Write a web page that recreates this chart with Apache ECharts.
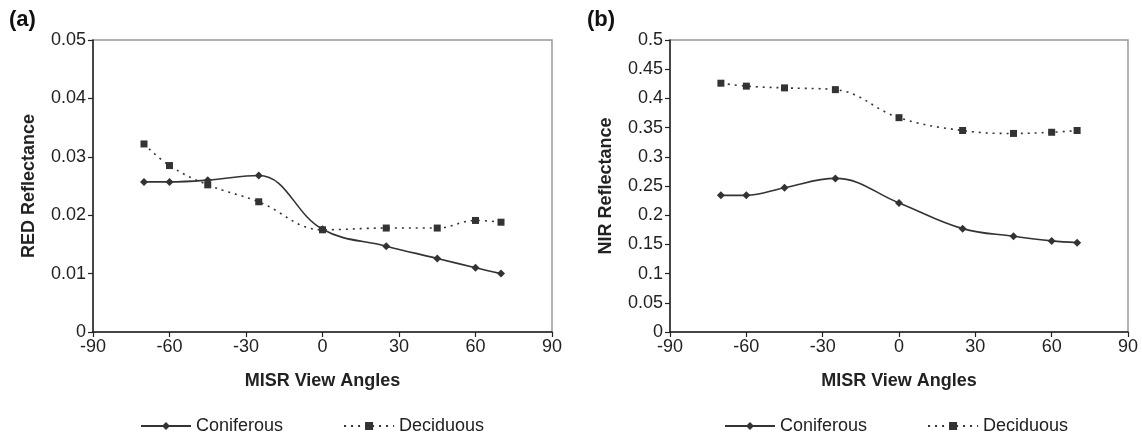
<!DOCTYPE html>
<html>
<head>
<meta charset="utf-8">
<script src="https://cdn.jsdelivr.net/npm/echarts@6/dist/echarts.min.js"></script>
<style>
  html, body { margin: 0; padding: 0; background: #fff; }
  #chart { width: 1142px; height: 440px; }
</style>
</head>
<body>
<div id="chart"></div>
<script>
// view angles (degrees)
const angles = [-70, -60, -45, -25, 0, 25, 45, 60, 70];

// (a) RED reflectance
const redConiferous = [0.0257, 0.0257, 0.0260, 0.0268, 0.0176, 0.0147, 0.0126, 0.0110, 0.0100];
const redDeciduous = [0.0322, 0.0285, 0.0252, 0.0223, 0.0175, 0.0178, 0.0178, 0.0191, 0.0188];

// (b) NIR reflectance
const nirConiferous = [0.234, 0.234, 0.247, 0.263, 0.221, 0.177, 0.164, 0.156, 0.153];
const nirDeciduous = [0.426, 0.421, 0.418, 0.415, 0.367, 0.345, 0.340, 0.342, 0.345];

const pair = (xs, ys) => xs.map((x, i) => [x, ys[i]]);

const font = 'Liberation Sans, Arial, sans-serif';
const ink = '#222';

const xAxisBase = (gridIndex) => ({
    type: 'value',
    gridIndex,
    min: -90,
    max: 90,
    interval: 30,
    name: 'MISR View Angles',
    nameLocation: 'middle',
    nameGap: 40,
    nameTextStyle: { color: ink, fontFamily: font, fontSize: 18, fontWeight: 'bold' },
    axisLine: { onZero: false, lineStyle: { color: ink, width: 1.5 } },
    axisTick: { show: true, length: 5, lineStyle: { color: ink, width: 1.2 } },
    axisLabel: { color: ink, fontFamily: font, fontSize: 18, margin: 6 },
    splitLine: { show: false }
});

const yAxisBase = (gridIndex, max, interval, name) => ({
    type: 'value',
    gridIndex,
    min: 0,
    max,
    interval,
    name,
    nameLocation: 'middle',
    nameGap: 55,
    nameTextStyle: { color: ink, fontFamily: font, fontSize: 18, fontWeight: 'bold' },
    axisLine: { show: true, onZero: false, lineStyle: { color: ink, width: 1.5 } },
    axisTick: { show: true, length: 5, lineStyle: { color: ink, width: 1.2 } },
    axisLabel: { color: ink, fontFamily: font, fontSize: 18, margin: 7 },
    splitLine: { show: false }
});

const coniferous = (xi, data) => ({
    name: 'Coniferous',
    type: 'line',
    xAxisIndex: xi,
    yAxisIndex: xi,
    data,
    smooth: 0.4,
    symbol: 'diamond',
    symbolSize: 8,
    lineStyle: { color: '#333', width: 1.6, type: 'solid' },
    itemStyle: { color: '#333' }
});

const deciduous = (xi, data) => ({
    name: 'Deciduous',
    type: 'line',
    xAxisIndex: xi,
    yAxisIndex: xi,
    data,
    smooth: 0.4,
    symbol: 'rect',
    symbolSize: 7,
    lineStyle: { color: '#333', width: 1.6, type: [2, 5] },
    itemStyle: { color: '#333' }
});

const legendBase = (left) => ({
    left,
    top: 412,
    itemWidth: 50,
    itemHeight: 10,
    itemGap: 60,
    textStyle: { color: ink, fontFamily: font, fontSize: 18 },
    data: ['Coniferous', 'Deciduous']
});

const chart = echarts.init(document.getElementById('chart'));
chart.setOption({
    animation: false,
    backgroundColor: '#fff',
    title: [
        { text: '(a)', left: 4, top: 4, textStyle: { fontFamily: font, fontSize: 22, fontWeight: 'bold', color: '#111' } },
        { text: '(b)', left: 582, top: 4, textStyle: { fontFamily: font, fontSize: 22, fontWeight: 'bold', color: '#111' } }
    ],
    grid: [
        { left: 93, right: 590, top: 40, height: 292, show: true, borderColor: '#999', borderWidth: 1.5, backgroundColor: 'transparent' },
        { left: 670, right: 14, top: 40, height: 292, show: true, borderColor: '#999', borderWidth: 1.5, backgroundColor: 'transparent' }
    ],
    legend: [legendBase(135), legendBase(719)],
    xAxis: [xAxisBase(0), xAxisBase(1)],
    yAxis: [
        yAxisBase(0, 0.05, 0.01, 'RED Reflectance'),
        yAxisBase(1, 0.5, 0.05, 'NIR Reflectance')
    ],
    series: [
        coniferous(0, pair(angles, redConiferous)),
        deciduous(0, pair(angles, redDeciduous)),
        coniferous(1, pair(angles, nirConiferous)),
        deciduous(1, pair(angles, nirDeciduous))
    ]
});
</script>
</body>
</html>
